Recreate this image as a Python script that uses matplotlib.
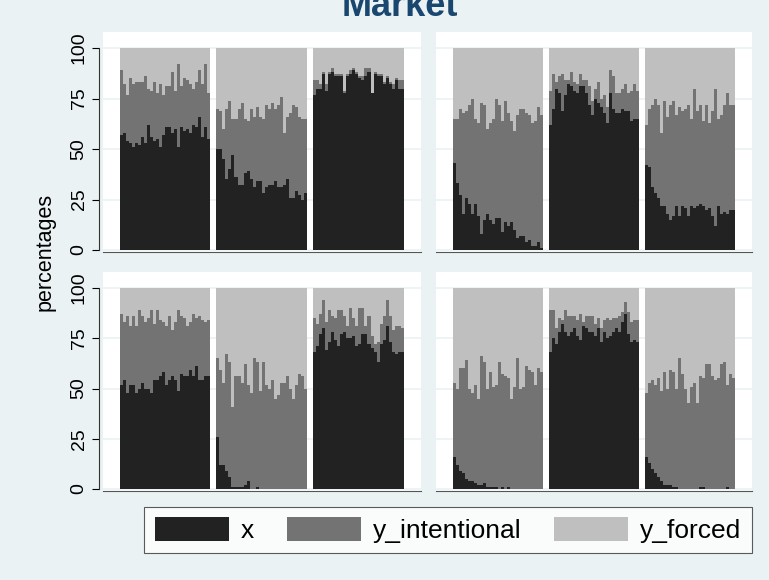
import numpy as np
import matplotlib
matplotlib.use("Agg")
import matplotlib.pyplot as plt
from matplotlib.patches import Patch

plt.rcParams['font.family'] = ['Liberation Sans', 'DejaVu Sans']

# series: share x and cumulative top (x + y_intentional); y_forced fills to 100
# panel order: top-left, top-right, bottom-left, bottom-right; three groups each
tl_x = [
    [57, 58, 54, 53, 51, 53, 52, 56, 53, 62, 56, 54, 55, 51, 57, 61, 61, 58, 60, 51, 61, 59, 60, 58, 62, 61, 66, 56, 61, 55],
    [50, 50, 45, 35, 40, 47, 36, 32, 32, 38, 39, 35, 31, 34, 34, 28, 31, 32, 32, 34, 31, 31, 32, 35, 26, 26, 29, 27, 25, 28],
    [77, 80, 80, 87, 79, 87, 88, 86, 86, 86, 78, 86, 87, 89, 87, 85, 84, 86, 88, 78, 87, 86, 86, 82, 85, 82, 80, 84, 80, 80],
]
tl_top = [
    [89, 82, 77, 85, 82, 83, 83, 83, 86, 80, 79, 83, 78, 82, 77, 81, 81, 88, 79, 92, 81, 85, 84, 82, 80, 83, 89, 82, 92, 78],
    [70, 69, 60, 70, 74, 65, 65, 70, 73, 65, 64, 70, 66, 71, 66, 65, 72, 70, 73, 70, 72, 76, 58, 66, 68, 72, 71, 66, 65, 65],
    [84, 84, 82, 88, 82, 88, 90, 87, 87, 87, 79, 87, 89, 90, 88, 86, 86, 90, 90, 78, 88, 87, 87, 83, 86, 83, 82, 85, 84, 84],
]
tr_x = [
    [43, 33, 27, 18, 26, 23, 18, 23, 17, 8, 15, 18, 15, 13, 16, 16, 9, 14, 12, 14, 10, 6, 7, 7, 4, 5, 2, 2, 4, 1],
    [62, 70, 80, 78, 69, 77, 82, 81, 79, 78, 81, 81, 78, 72, 67, 75, 73, 71, 68, 63, 78, 70, 68, 68, 70, 69, 69, 64, 65, 65],
    [42, 41, 31, 28, 26, 22, 22, 18, 15, 17, 22, 17, 22, 21, 17, 22, 21, 22, 23, 22, 20, 21, 17, 12, 22, 18, 19, 18, 20, 20],
]
tr_top = [
    [65, 65, 70, 68, 69, 72, 75, 65, 63, 73, 72, 60, 63, 65, 75, 72, 64, 74, 68, 64, 59, 67, 70, 70, 68, 67, 63, 64, 71, 67],
    [79, 87, 83, 86, 87, 84, 84, 88, 83, 82, 87, 84, 84, 81, 74, 80, 83, 75, 77, 71, 89, 86, 78, 78, 80, 82, 78, 79, 82, 79],
    [62, 70, 72, 75, 72, 58, 74, 66, 72, 74, 67, 71, 69, 70, 72, 65, 80, 69, 72, 64, 72, 63, 69, 80, 65, 67, 72, 78, 72, 72],
]
bl_x = [
    [52, 54, 48, 52, 52, 48, 50, 53, 50, 50, 48, 54, 54, 56, 58, 52, 54, 56, 54, 49, 57, 56, 56, 59, 56, 61, 54, 54, 56, 56],
    [26, 12, 12, 9, 6, 1, 1, 1, 1, 2, 4, 0, 0, 1, 0, 0, 0, 0, 0, 0, 0, 0, 0, 0, 0, 0, 0, 0, 0, 0],
    [68, 71, 77, 80, 69, 73, 78, 74, 71, 77, 78, 75, 75, 76, 71, 72, 77, 77, 72, 70, 68, 63, 72, 74, 81, 73, 68, 67, 68, 68],
]
bl_top = [
    [87, 83, 86, 81, 86, 81, 89, 86, 83, 85, 89, 82, 89, 84, 83, 81, 86, 79, 83, 89, 86, 85, 81, 83, 87, 85, 86, 84, 83, 84],
    [65, 59, 53, 67, 63, 41, 56, 56, 53, 62, 52, 48, 65, 63, 49, 63, 52, 50, 54, 45, 47, 53, 53, 56, 50, 45, 52, 57, 56, 50],
    [85, 82, 87, 94, 83, 89, 86, 85, 89, 89, 86, 81, 90, 85, 81, 90, 90, 81, 86, 76, 72, 73, 82, 86, 94, 86, 79, 81, 81, 80],
]
br_x = [
    [16, 12, 9, 8, 5, 4, 4, 3, 2, 2, 3, 1, 1, 1, 1, 0, 1, 0, 1, 0, 0, 0, 0, 0, 0, 0, 0, 0, 0, 0],
    [68, 75, 72, 78, 82, 78, 76, 78, 80, 76, 74, 81, 80, 78, 78, 76, 80, 73, 78, 75, 76, 78, 80, 78, 83, 87, 77, 73, 74, 73],
    [16, 13, 10, 8, 6, 4, 2, 2, 2, 1, 1, 0, 0, 0, 0, 0, 0, 0, 1, 1, 0, 0, 0, 0, 0, 0, 0, 1, 0, 0],
]
br_top = [
    [53, 50, 60, 60, 64, 50, 48, 52, 45, 66, 63, 50, 58, 51, 52, 63, 57, 56, 55, 45, 51, 65, 50, 51, 61, 59, 58, 52, 60, 58],
    [89, 89, 80, 85, 84, 89, 86, 86, 86, 84, 87, 83, 86, 86, 86, 82, 85, 80, 84, 85, 84, 85, 85, 86, 88, 93, 88, 83, 84, 84],
    [48, 53, 54, 52, 55, 49, 58, 50, 59, 58, 50, 65, 57, 50, 43, 51, 53, 43, 56, 55, 62, 62, 56, 54, 55, 62, 63, 52, 57, 55],
]

series_names = ['x', 'y_intentional', 'y_forced']
colors = ['#222222', '#737373', '#bfbfbf']
yticks = [0, 25, 50, 75, 100]
title = 'Market'
ylabel = 'percentages'

BG = '#eaf2f3'
W, H = 769, 580

fig = plt.figure(figsize=(W / 100, H / 100), dpi=100, facecolor=BG)

def px_axes(left, top, right, bottom):
    return fig.add_axes([left / W, 1 - bottom / H, (right - left) / W, (bottom - top) / H])

panels = [
    (tl_x, tl_top, (103, 32, 421, 252), True),
    (tr_x, tr_top, (436, 32, 752, 252), False),
    (bl_x, bl_top, (103, 272, 421, 491), True),
    (br_x, br_top, (436, 272, 752, 491), False),
]

for xs, tops, box, show_y in panels:
    ax = px_axes(*box)
    ax.set_facecolor('white')
    for g in range(3):
        xv = np.array(xs[g], dtype=float)
        tv = np.array(tops[g], dtype=float)
        pos = np.arange(len(xv)) + g * 32
        ax.bar(pos, xv, width=1.0, color=colors[0], linewidth=0, zorder=2)
        ax.bar(pos, tv - xv, bottom=xv, width=1.0, color=colors[1], linewidth=0, zorder=2)
        ax.bar(pos, 100 - tv, bottom=tv, width=1.0, color=colors[2], linewidth=0, zorder=2)
    ax.set_xlim(-6.0, 99.2)
    ax.set_ylim(-1, 108)
    ax.set_yticks(yticks)
    for v in yticks:
        ax.axhline(v, color=BG, linewidth=1.2, zorder=1)
    ax.set_xticks([])
    for s in ['top', 'right']:
        ax.spines[s].set_visible(False)
    ax.spines['bottom'].set_color('#555555')
    ax.spines['bottom'].set_linewidth(0.8)
    if show_y:
        ax.spines['left'].set_color('#333333')
        ax.spines['left'].set_linewidth(0.8)
        ax.spines['left'].set_bounds(0, 100)
        ax.spines['left'].set_position(('outward', 3))
        ax.tick_params(axis='y', length=5, width=0.8, labelsize=14, pad=3)
        for lab in ax.get_yticklabels():
            lab.set_rotation(90)
            lab.set_va('center')
    else:
        ax.spines['left'].set_visible(False)
        ax.tick_params(axis='y', length=0, labelleft=False)

fig.text(0.52, 1 - 16 / H, title, ha='center', va='baseline', fontsize=26,
         fontweight='bold', color='#1a476f')
fig.text(45 / W, 1 - 252 / H, ylabel, ha='center', va='center', rotation=90, fontsize=15.5)

handles = [Patch(facecolor=c, edgecolor='none') for c in colors]
leg = fig.legend(handles, series_names, loc='center', bbox_to_anchor=(448 / W, 1 - 530 / H),
                 ncol=3, fontsize=19, frameon=True, fancybox=False, handlelength=2.8,
                 handleheight=1.0, columnspacing=1.25, handletextpad=0.45, borderpad=0.4,
                 borderaxespad=0)
leg.get_frame().set_edgecolor('#333333')
leg.get_frame().set_linewidth(0.8)

fig.savefig('out.png', dpi=100, facecolor=BG)
